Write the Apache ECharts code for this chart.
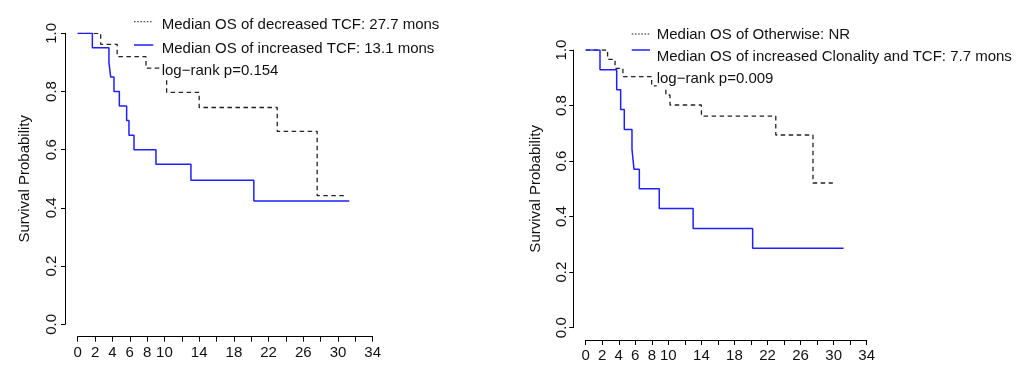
<!DOCTYPE html>
<html><head><meta charset="utf-8">
<script src="https://cdn.jsdelivr.net/npm/echarts@6/dist/echarts.min.js"></script>
<style>html,body{margin:0;padding:0;background:#fff}#c{width:1036px;height:381px}</style>
</head><body><div id="c"></div>
<script>
// ---- tick labels ----
const xTickLabels = [0, 2, 4, 6, 8, 10, 14, 18, 22, 26, 30, 34];
const yTickLabels = [0, 0.2, 0.4, 0.6, 0.8, 1.0];

// ---- left panel: decreased vs increased TCF ----
const leftDecTime = [0, 2.65, 4.55, 7.87, 10.25, 14.0, 23.0, 27.6, 30.8];
const leftDecSurv = [1, 0.962, 0.92, 0.88, 0.797, 0.745, 0.663, 0.442, 0.442];
const leftIncTime = [0, 1.69, 3.6, 3.8, 4.18, 4.8, 5.64, 5.91, 6.49, 9.02, 13.05, 20.3, 31.3];
const leftIncSurv = [1, 0.95, 0.90, 0.85, 0.80, 0.75, 0.70, 0.65, 0.60, 0.55, 0.495, 0.424, 0.424];
const leftLegend = ['Median OS of decreased TCF: 27.7 mons', 'Median OS of increased TCF: 13.1 mons', 'log\u2212rank p=0.154'];

// ---- right panel: otherwise vs increased clonality and TCF ----
const rightOthTime = [0, 2.65, 3.55, 4.5, 7.98, 9.7, 10.2, 14.0, 23.0, 27.5, 29.9];
const rightOthSurv = [1, 0.966, 0.934, 0.904, 0.871, 0.838, 0.802, 0.762, 0.694, 0.521, 0.521];
const rightIncTime = [0, 1.73, 3.75, 4.23, 4.67, 5.6, 5.84, 6.49, 8.9, 13.0, 20.2, 31.2];
const rightIncSurv = [1, 0.929, 0.857, 0.786, 0.714, 0.643, 0.571, 0.5, 0.429, 0.357, 0.286, 0.286];
const rightLegend = ['Median OS of Otherwise: NR', 'Median OS of increased Clonality and TCF: 7.7 mons', 'log\u2212rank p=0.009'];

const yTitle = 'Survival Probability';

const FONT = '"Liberation Sans", Arial, Helvetica, sans-serif';
const TXT = '#111';
const BLUE = '#1f1fff';
const DASH = '#222';

function pairs(t, s) { return t.map((x, i) => [x, s[i]]); }

function xAxisCfg(gi, offset, margin) {
  return {
    type: 'value', gridIndex: gi, min: 0, max: 34, interval: 2, offset: offset,
    axisLine: { show: true, onZero: false, lineStyle: { color: '#000', width: 1 } },
    axisTick: { show: true, length: 5, lineStyle: { color: '#000', width: 1 } },
    axisLabel: { customValues: xTickLabels, margin: margin, fontSize: 15, color: TXT, fontFamily: FONT },
    splitLine: { show: false }
  };
}
function yAxisCfg(gi, offset, margin, nameGap) {
  return {
    type: 'value', gridIndex: gi, min: 0, max: 1, interval: 0.2, offset: offset,
    name: yTitle, nameLocation: 'middle', nameGap: nameGap, nameRotate: 90, nameMoveOverlap: false,
    nameTextStyle: { fontSize: 15, color: TXT, fontFamily: FONT },
    axisLine: { show: true, onZero: false, lineStyle: { color: '#000', width: 1 } },
    axisTick: { show: true, length: 4, lineStyle: { color: '#000', width: 1 } },
    axisLabel: { customValues: yTickLabels, rotate: 90, margin: margin, fontSize: 15, color: TXT, fontFamily: FONT,
      formatter: v => Number(v).toFixed(1) },
    splitLine: { show: false }
  };
}
function stepSeries(xi, data, color, dashed) {
  return {
    type: 'line', xAxisIndex: xi, yAxisIndex: xi, step: 'end', symbol: 'none', data: data,
    animation: false, silent: true,
    lineStyle: { color: color, width: dashed ? 1.3 : 1.5, type: dashed ? [4.5, 3.5] : 'solid' }
  };
}
function legendEls(x0, x1, lineYs, textX, textYs, labels) {
  const els = [];
  els.push({ type: 'line', z: 100, shape: { x1: x0, y1: lineYs[0], x2: x1, y2: lineYs[0] },
    style: { stroke: DASH, lineWidth: 1.1, lineDash: [1.6, 1.6] } });
  els.push({ type: 'line', z: 100, shape: { x1: x0, y1: lineYs[1], x2: x1, y2: lineYs[1] },
    style: { stroke: BLUE, lineWidth: 1.5 } });
  labels.forEach((t, i) => {
    els.push({ type: 'text', z: 100, x: textX, y: textYs[i],
      style: { text: t, fill: TXT, font: '15px ' + FONT, align: 'left', verticalAlign: 'middle',
        backgroundColor: i === 2 ? '#fff' : 'transparent', padding: i === 2 ? [0, 0, 2, 0] : 0 } });
  });
  return els;
}

const chart = echarts.init(document.getElementById('c'), null, { renderer: 'canvas' });
chart.setOption({
  backgroundColor: '#fff',
  animation: false,
  grid: [
    { left: 77.7, top: 33.3, width: 295, height: 291, outerBoundsMode: 'none', containLabel: false },
    { left: 585.7, top: 50, width: 281, height: 277.7, outerBoundsMode: 'none', containLabel: false }
  ],
  xAxis: [xAxisCfg(0, 12.4, 9), xAxisCfg(1, 12.3, 8.5)],
  yAxis: [yAxisCfg(0, 12.7, 6, 32.5), yAxisCfg(1, 12.4, 4, 30)],
  series: [
    stepSeries(0, pairs(leftDecTime, leftDecSurv), DASH, true),
    stepSeries(0, pairs(leftIncTime, leftIncSurv), BLUE, false),
    stepSeries(1, pairs(rightOthTime, rightOthSurv), DASH, true),
    stepSeries(1, pairs(rightIncTime, rightIncSurv), BLUE, false)
  ],
  graphic: [].concat(
    legendEls(134, 153.3, [21.7, 45], 161.7, [25.3, 48.7, 70.5], leftLegend),
    legendEls(631.7, 650, [34, 50], 656.7, [35.3, 57, 78.7], rightLegend)
  )
});
</script></body></html>
